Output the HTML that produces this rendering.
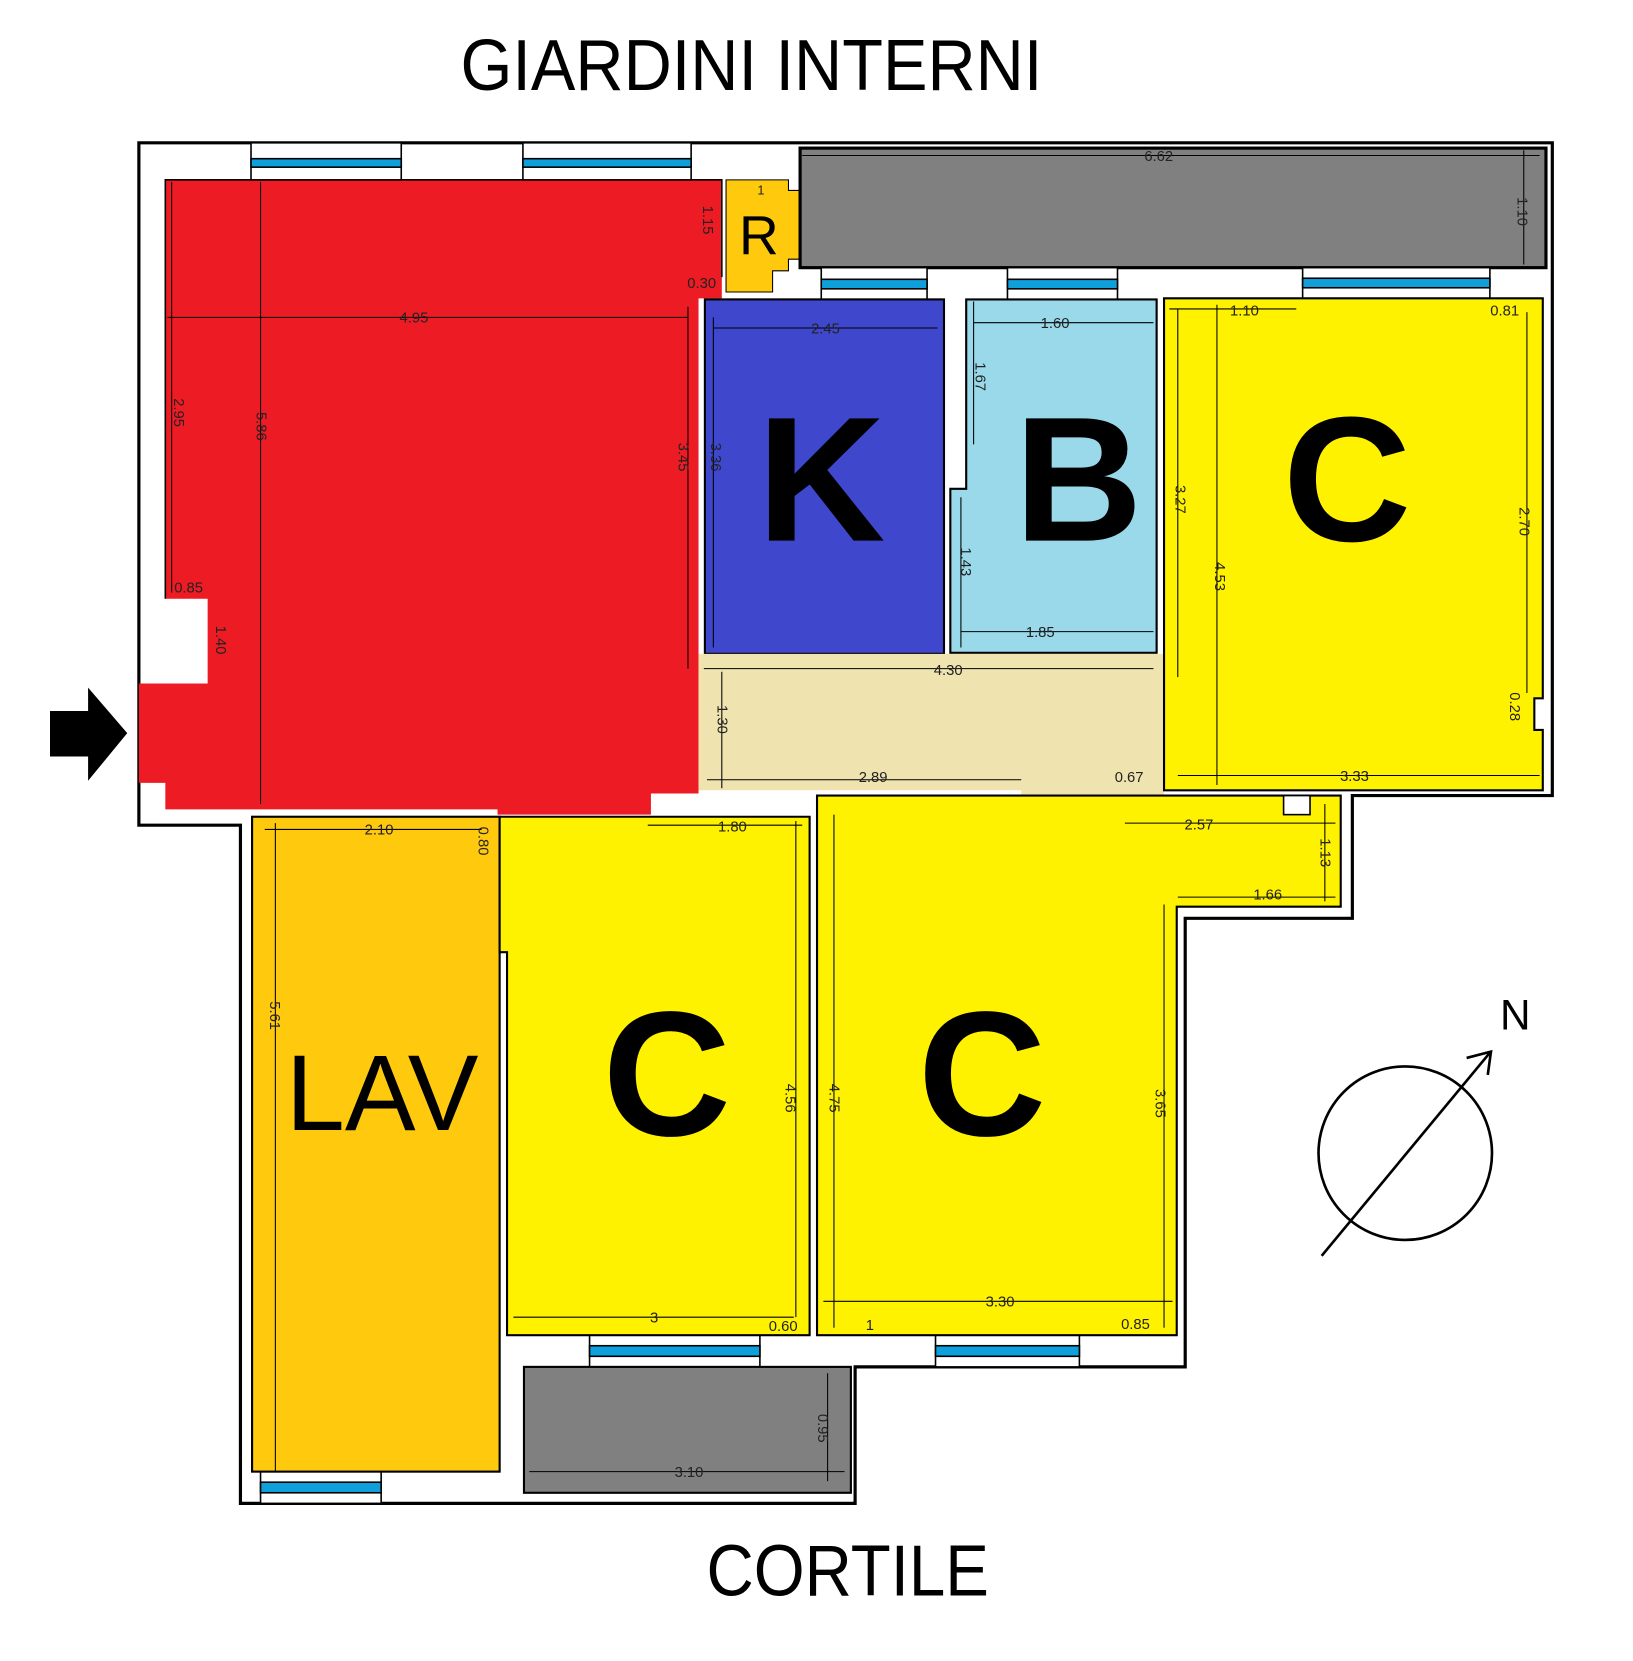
<!DOCTYPE html>
<html><head><meta charset="utf-8"><style>html,body{margin:0;padding:0;background:#fff}svg{display:block}
.d{stroke:#000;stroke-width:1;fill:none}
.t{font-family:"Liberation Sans",sans-serif;font-size:14px;fill:#222}
.big{font-family:"Liberation Sans",sans-serif;font-weight:bold;fill:#000}
</style></head><body>
<svg width="1633" height="1661" viewBox="0 0 1543 1570" xmlns="http://www.w3.org/2000/svg">
<rect width="1543" height="1570" fill="#fff"/>
<text x="710" y="85" text-anchor="middle" font-family="Liberation Sans, sans-serif" font-size="68" textLength="550" lengthAdjust="spacingAndGlyphs" fill="#000">GIARDINI INTERNI</text>
<text x="801" y="1508" text-anchor="middle" font-family="Liberation Sans, sans-serif" font-size="68" textLength="267" lengthAdjust="spacingAndGlyphs" fill="#000">CORTILE</text>

<polygon points="131,135 1467,135 1467,752 1278,752 1278,868 1120,868 1120,1292 808,1292 808,1421 227,1421 227,780 131,780" fill="#fff" stroke="#000" stroke-width="3"/>

<polygon points="156,170 682,170 682,282 660,282 660,750 615,750 615,770 470,770 470,765 156,765 156,740 131,740 131,646 196,646 196,566 156,566" fill="#ED1C24"/>
<polyline points="156,566 156,170 682,170 682,262" fill="none" stroke="#000" stroke-width="1.5"/>
<polygon points="686,170 745,170 745,180 756,180 756,245 745,245 745,256 730,256 730,276 686,276" fill="#FFC90E" stroke="#000" stroke-width="1"/>
<rect x="756" y="140" width="705" height="113" fill="#808080" stroke="#000" stroke-width="3"/>
<g stroke="#000" stroke-width="1.5">
<rect x="237" y="135" width="142" height="35" fill="#fff"/><rect x="237" y="150" width="142" height="8" fill="#0FA0DC"/>
<rect x="494" y="135" width="159" height="35" fill="#fff"/><rect x="494" y="150" width="159" height="8" fill="#0FA0DC"/>
<rect x="776" y="253" width="100" height="30" fill="#fff"/><rect x="776" y="264" width="100" height="9" fill="#0FA0DC"/>
<rect x="952" y="253" width="104" height="30" fill="#fff"/><rect x="952" y="264" width="104" height="9" fill="#0FA0DC"/>
<rect x="1231" y="253" width="177" height="29" fill="#fff"/><rect x="1231" y="263" width="177" height="9" fill="#0FA0DC"/>
<rect x="557" y="1262" width="161" height="30" fill="#fff"/><rect x="557" y="1272" width="161" height="10" fill="#0FA0DC"/>
<rect x="884" y="1262" width="136" height="30" fill="#fff"/><rect x="884" y="1272" width="136" height="10" fill="#0FA0DC"/>
<rect x="246" y="1391" width="114" height="30" fill="#fff"/><rect x="246" y="1401" width="114" height="10" fill="#0FA0DC"/>
</g>
<rect x="666" y="283" width="226" height="335" fill="#3F48CC" stroke="#000" stroke-width="2"/>
<polygon points="913,283 1093,283 1093,617 898,617 898,462 913,462" fill="#99D9EA" stroke="#000" stroke-width="2"/>
<polygon points="660,618 1100,618 1100,752 965,752 965,747 660,747" fill="#EFE4B0"/>
<polygon points="1100,282 1458,282 1458,660 1450,660 1450,690 1458,690 1458,747 1100,747" fill="#FFF200" stroke="#000" stroke-width="2"/>
<rect x="238" y="772" width="234" height="619" fill="#FFC90E" stroke="#000" stroke-width="2"/>
<polygon points="472,772 765,772 765,1262 479,1262 479,900 472,900" fill="#FFF200" stroke="#000" stroke-width="2"/>
<polygon points="772,752 1267,752 1267,857 1112,857 1112,1262 772,1262" fill="#FFF200" stroke="#000" stroke-width="2"/>
<rect x="1213" y="752" width="25" height="18" fill="#fff" stroke="#000" stroke-width="1.5"/>
<rect x="495" y="1292" width="309" height="119" fill="#808080" stroke="#000" stroke-width="2"/>

<g class="d">
<line x1="758" y1="147" x2="1455" y2="147"/><line x1="1440" y1="142" x2="1440" y2="250"/>
<line x1="158" y1="300" x2="650" y2="300"/><line x1="162" y1="172" x2="162" y2="560"/>
<line x1="246" y1="172" x2="246" y2="760"/><line x1="650" y1="290" x2="650" y2="632"/>
<line x1="674" y1="310" x2="886" y2="310"/><line x1="674" y1="300" x2="674" y2="612"/>
<line x1="920" y1="305" x2="1090" y2="305"/><line x1="920" y1="285" x2="920" y2="420"/>
<line x1="908" y1="470" x2="908" y2="612"/><line x1="908" y1="597" x2="1090" y2="597"/>
<line x1="665" y1="632" x2="1090" y2="632"/><line x1="682" y1="635" x2="682" y2="745"/>
<line x1="668" y1="737" x2="965" y2="737"/>
<line x1="1105" y1="292" x2="1225" y2="292"/><line x1="1113" y1="292" x2="1113" y2="640"/>
<line x1="1150" y1="288" x2="1150" y2="742"/><line x1="1443" y1="295" x2="1443" y2="655"/>
<line x1="1113" y1="733" x2="1455" y2="733"/>
<line x1="250" y1="784" x2="455" y2="784"/><line x1="260" y1="778" x2="260" y2="1390"/>
<line x1="612" y1="780" x2="758" y2="780"/><line x1="752" y1="776" x2="752" y2="1245"/>
<line x1="485" y1="1245" x2="750" y2="1245"/>
<line x1="788" y1="770" x2="788" y2="1255"/><line x1="1100" y1="855" x2="1100" y2="1255"/>
<line x1="778" y1="1230" x2="1108" y2="1230"/>
<line x1="1063" y1="778" x2="1262" y2="778"/><line x1="1252" y1="760" x2="1252" y2="852"/>
<line x1="1113" y1="848" x2="1262" y2="848"/>
<line x1="782" y1="1298" x2="782" y2="1400"/><line x1="500" y1="1391" x2="798" y2="1391"/>
</g>
<g class="t">
<text x="1095" y="152" text-anchor="middle">6.62</text>
<text x="391" y="305" text-anchor="middle">4.95</text>
<text x="780" y="315" text-anchor="middle">2.45</text>
<text x="997" y="310" text-anchor="middle">1.60</text>
<text x="983" y="602" text-anchor="middle">1.85</text>
<text x="896" y="638" text-anchor="middle">4.30</text>
<text x="825" y="739" text-anchor="middle">2.89</text>
<text x="1067" y="739" text-anchor="middle">0.67</text>
<text x="1176" y="298" text-anchor="middle">1.10</text>
<text x="1422" y="298" text-anchor="middle">0.81</text>
<text x="1280" y="738" text-anchor="middle">3.33</text>
<text x="358" y="789" text-anchor="middle">2.10</text>
<text x="692" y="786" text-anchor="middle">1.80</text>
<text x="618" y="1250" text-anchor="middle">3</text>
<text x="740" y="1258" text-anchor="middle">0.60</text>
<text x="945" y="1235" text-anchor="middle">3.30</text>
<text x="822" y="1257" text-anchor="middle">1</text>
<text x="1073" y="1256" text-anchor="middle">0.85</text>
<text x="1133" y="784" text-anchor="middle">2.57</text>
<text x="1198" y="850" text-anchor="middle">1.66</text>
<text x="651" y="1396" text-anchor="middle">3.10</text>
<text x="719" y="184" text-anchor="middle" font-size="12">1</text>
<text x="663" y="272" text-anchor="middle">0.30</text>
<text x="178" y="560" text-anchor="middle">0.85</text>
<g text-anchor="middle">
<text transform="translate(1434,200) rotate(90)">1.10</text>
<text transform="translate(664,208) rotate(90)">1.15</text>
<text transform="translate(164,390) rotate(90)">2.95</text>
<text transform="translate(242,403) rotate(90)">5.86</text>
<text transform="translate(641,432) rotate(90)">3.45</text>
<text transform="translate(672,432) rotate(90)">3.36</text>
<text transform="translate(204,605) rotate(90)">1.40</text>
<text transform="translate(922,356) rotate(90)">1.67</text>
<text transform="translate(908,531) rotate(90)">1.43</text>
<text transform="translate(678,680) rotate(90)">1.30</text>
<text transform="translate(1111,472) rotate(90)">3.27</text>
<text transform="translate(1148,545) rotate(90)">4.53</text>
<text transform="translate(1436,493) rotate(90)">2.70</text>
<text transform="translate(1427,668) rotate(90)">0.28</text>
<text transform="translate(452,795) rotate(90)">0.80</text>
<text transform="translate(255,960) rotate(90)">5.61</text>
<text transform="translate(742,1038) rotate(90)">4.56</text>
<text transform="translate(784,1038) rotate(90)">4.75</text>
<text transform="translate(1092,1043) rotate(90)">3.65</text>
<text transform="translate(1248,806) rotate(90)">1.13</text>
<text transform="translate(773,1350) rotate(90)">0.95</text>
</g>
</g>

<text x="717" y="240" text-anchor="middle" font-family="Liberation Sans, sans-serif" font-size="52" fill="#000">R</text>
<text class="big" x="776" y="511" text-anchor="middle" font-size="168">K</text>
<text class="big" x="1019" y="511" text-anchor="middle" font-size="168">B</text>
<text class="big" x="1273" y="511" text-anchor="middle" font-size="168">C</text>
<text class="big" x="630" y="1073" text-anchor="middle" font-size="168">C</text>
<text class="big" x="928" y="1073" text-anchor="middle" font-size="168">C</text>
<text x="361" y="1068" text-anchor="middle" font-family="Liberation Sans, sans-serif" font-size="102" textLength="182" lengthAdjust="spacingAndGlyphs" fill="#000">LAV</text>

<polygon points="47,672 83,672 83,650 120,693 83,738 83,715 47,715" fill="#000"/>

<circle cx="1328" cy="1090" r="82" fill="none" stroke="#000" stroke-width="2.5"/>
<line x1="1249" y1="1187" x2="1408" y2="995" stroke="#000" stroke-width="2.5"/>
<polyline points="1386,1000 1409,994 1406,1016" fill="none" stroke="#000" stroke-width="2.5"/>
<text x="1432" y="973" text-anchor="middle" font-family="Liberation Sans, sans-serif" font-size="40" fill="#000">N</text>
</svg>
</body></html>
